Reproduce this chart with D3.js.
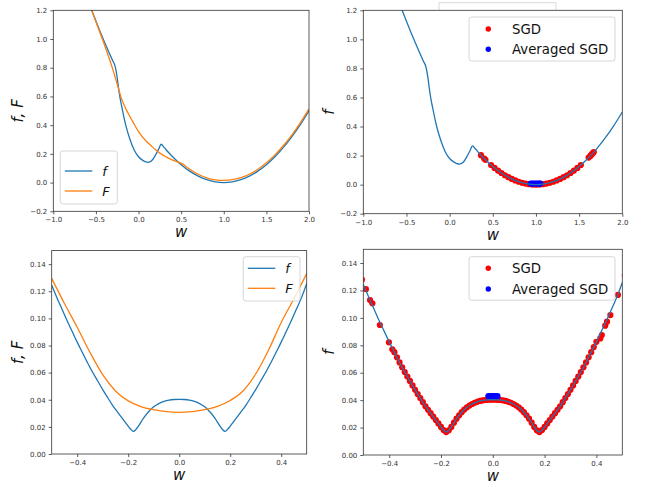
<!DOCTYPE html>
<html><head><meta charset="utf-8">
<script src="https://cdn.jsdelivr.net/npm/d3@7"></script>
<style>
body{margin:0;background:#fff}
svg{display:block}
text{font-family:"DejaVu Sans",sans-serif}
</style>
</head><body>
<svg id="chart" width="645" height="487"></svg>
<script>
// ---------- Top row data (w in [-1,2]) ----------
const topW_f = [-0.6,-0.55,-0.5,-0.45,-0.4,-0.35,-0.3,-0.277,-0.25,-0.237,-0.22,-0.197,-0.15,-0.1,-0.05,0.0,0.05,0.1,0.115,0.15,0.2,0.24,0.264,0.3,0.35,0.4,0.5,0.6,0.7,0.8,0.9,1.0,1.1,1.2,1.3,1.4,1.5,1.6,1.7,1.8,1.9,2.0];
const topVal_f = [1.28,1.201,1.125,1.051,0.98,0.911,0.845,0.815,0.73,0.67,0.60,0.53,0.40,0.30,0.225,0.18,0.155,0.142,0.141,0.150,0.193,0.238,0.267,0.245,0.211,0.18,0.125,0.08,0.045,0.02,0.005,0.0,0.005,0.02,0.045,0.08,0.125,0.18,0.245,0.32,0.405,0.5];
const topW_F = [-0.6,-0.55,-0.5,-0.45,-0.4,-0.35,-0.3,-0.25,-0.2,-0.15,-0.1,-0.05,0,0.05,0.1,0.15,0.2,0.25,0.3,0.35,0.4,0.45,0.5,0.6,0.7,0.8,0.9,1.0,1.1,1.2,1.3,1.4,1.5,1.6,1.7,1.8,1.9,2.0];
const topVal_F = [1.27,1.2,1.12,1.04,0.96,0.875,0.785,0.685,0.585,0.515,0.459,0.405,0.355,0.315,0.283,0.255,0.228,0.205,0.187,0.17,0.157,0.146,0.135,0.093,0.058,0.033,0.019,0.015,0.02,0.034,0.058,0.093,0.138,0.193,0.258,0.333,0.418,0.513];
// SGD iterates (top right)
const sgdTopW = [0.363,0.40,0.415,0.48,0.52,0.56,0.60,0.64,0.68,0.72,0.76,0.80,0.84,0.88,0.92,0.96,1.00,1.04,1.08,1.12,1.16,1.20,1.24,1.28,1.32,1.36,1.40,1.44,1.48,1.52,1.61,1.63,1.645,1.66,1.67];
const sgdTopF = [0.203,0.18,0.171,0.1352,0.1152,0.0968,0.08,0.0648,0.0512,0.0392,0.0288,0.02,0.0128,0.0072,0.0032,0.0008,0.0,0.0008,0.0032,0.0072,0.0128,0.02,0.0288,0.0392,0.0512,0.0648,0.08,0.0968,0.1152,0.1352,0.186,0.198,0.208,0.218,0.224];
const avgTopW = [0.94,0.96,0.98,1.0,1.02,1.04,1.05];
const avgTopF = [0.008,0.0078,0.0077,0.0077,0.0077,0.0078,0.008];

// ---------- Bottom row data (w in [-0.5,0.5]) ----------
const botW_f = [-0.5,-0.48,-0.46,-0.44,-0.42,-0.4,-0.38,-0.36,-0.34,-0.32,-0.3,-0.28,-0.26,-0.24,-0.22,-0.2,-0.19,-0.18,-0.17,-0.16,-0.14,-0.12,-0.1,-0.08,-0.06,-0.04,-0.02,0,0.02,0.04,0.06,0.08,0.1,0.12,0.14,0.16,0.17,0.18,0.19,0.2,0.22,0.24,0.26,0.28,0.3,0.32,0.34,0.36,0.38,0.4,0.42,0.44,0.46,0.48,0.5];
const botVal_f = [0.1245,0.1155,0.107,0.0985,0.0905,0.0825,0.075,0.0675,0.0605,0.054,0.0475,0.0415,0.0355,0.0305,0.0255,0.0205,0.0182,0.0167,0.018,0.0205,0.0265,0.0312,0.0348,0.0372,0.0388,0.0398,0.0402,0.0403,0.0402,0.0398,0.0388,0.0372,0.0348,0.0312,0.0265,0.0205,0.018,0.0167,0.0182,0.0205,0.0255,0.0305,0.0355,0.0415,0.0475,0.054,0.0605,0.0675,0.075,0.0825,0.0905,0.0985,0.107,0.1155,0.1258];
const botW_F = [-0.5,-0.45,-0.4,-0.35,-0.3,-0.25,-0.2,-0.15,-0.1,-0.05,0,0.05,0.1,0.15,0.2,0.25,0.3,0.35,0.4,0.45,0.5];
const botVal_F = [0.1295,0.111,0.0935,0.075,0.0585,0.0465,0.0392,0.035,0.0327,0.0312,0.0307,0.0312,0.0328,0.0352,0.0395,0.0465,0.059,0.0765,0.097,0.1145,0.133];
// SGD iterates (bottom right)
const sgdBotW = [-0.505,-0.49,-0.474,-0.465,-0.436,-0.401,-0.388,
 -0.38,-0.37,-0.36,-0.35,-0.34,-0.33,-0.32,-0.31,-0.30,-0.29,-0.28,-0.27,-0.26,-0.25,-0.24,-0.23,-0.22,-0.21,-0.20,-0.19,-0.18,-0.17,-0.16,-0.15,-0.14,-0.13,-0.12,-0.11,-0.10,-0.09,-0.08,-0.07,-0.06,-0.05,-0.04,-0.03,-0.02,-0.01,
 0,0.01,0.02,0.03,0.04,0.05,0.06,0.07,0.08,0.09,0.10,0.11,0.12,0.13,0.14,0.15,0.16,0.17,0.18,0.19,0.20,0.21,0.22,0.23,0.24,0.25,0.26,0.27,0.28,0.29,0.30,0.31,0.32,0.33,0.34,0.35,0.36,0.37,0.38,0.39,0.40,
 0.415,0.421,0.434,0.441,0.454,0.483,0.51];
const sgdBotF = [0.128,0.1209,0.113,0.1106,0.0948,0.0822,0.0771,
 0.075,0.0712,0.0675,0.064,0.0605,0.0572,0.054,0.0507,0.0475,0.0445,0.0415,0.0385,0.0355,0.033,0.0305,0.028,0.0255,0.023,0.0205,0.0182,0.0167,0.018,0.0205,0.0236,0.0265,0.029,0.0312,0.0331,0.0348,0.0361,0.0372,0.0381,0.0388,0.0394,0.0398,0.0401,0.0402,0.0403,
 0.0403,0.0403,0.0402,0.0401,0.0398,0.0394,0.0388,0.0381,0.0372,0.0361,0.0348,0.0331,0.0312,0.029,0.0265,0.0236,0.0205,0.018,0.0167,0.0182,0.0205,0.023,0.0255,0.028,0.0305,0.033,0.0355,0.0385,0.0415,0.0445,0.0475,0.0507,0.054,0.0572,0.0605,0.064,0.0675,0.0712,0.075,0.0787,0.0825,
 0.085,0.0875,0.0943,0.0972,0.102,0.1167,0.131];
const avgBotW = [-0.017,-0.01,-0.003,0.004,0.011,0.018];
const avgBotF = [0.0429,0.0429,0.0429,0.0429,0.0429,0.0429];

// ticks
const topXTicks = [-1.0,-0.5,0.0,0.5,1.0,1.5,2.0];
const topYTicks = [-0.2,0.0,0.2,0.4,0.6,0.8,1.0,1.2];
const botXTicks = [-0.4,-0.2,0.0,0.2,0.4];
const botYTicks = [0.00,0.02,0.04,0.06,0.08,0.10,0.12,0.14];

const BLUE = "#1f77b4", ORANGE = "#ff7f0e";
const svg = d3.select("#chart");

const zip = (a, b) => a.map((v, i) => [v, b[i]]);

// stray legend box fragment at the top
svg.append("path").attr("d", "M439,10V2.7H556V10")
  .attr("fill", "none").attr("stroke", "#cfcfcf").attr("stroke-width", 0.8);

let clipId = 0;
function panel(o) {
  const g = svg.append("g");
  const x = d3.scaleLinear().domain(o.xd).range([o.l, o.r]);
  const y = d3.scaleLinear().domain(o.yd).range([o.b, o.t]);
  const id = "clip" + (clipId++);
  svg.append("clipPath").attr("id", id).append("rect")
    .attr("x", o.l).attr("y", o.t).attr("width", o.r - o.l).attr("height", o.b - o.t);
  const plot = g.append("g").attr("clip-path", `url(#${id})`);
  const line = d3.line().x(d => x(d[0])).y(d => y(d[1])).curve(d3.curveMonotoneX);

  (o.scatters || []).forEach(s => {
    plot.append("g").selectAll("circle").data(zip(s.w, s.v)).join("circle")
      .attr("cx", d => x(d[0])).attr("cy", d => y(d[1])).attr("r", 3.1).attr("fill", s.c);
  });
  (o.lines || []).forEach(s => {
    plot.append("path").datum(zip(s.w, s.v)).attr("d", line)
      .attr("fill", "none").attr("stroke", s.c).attr("stroke-width", 1.3);
  });

  const xa = d3.axisBottom(x).tickValues(o.xt).tickFormat(d3.format(o.xf)).tickSize(3).tickPadding(3);
  const ya = d3.axisLeft(y).tickValues(o.yt).tickFormat(d3.format(o.yf)).tickSize(3).tickPadding(3);
  [g.append("g").attr("transform", `translate(0,${o.b})`).call(xa),
   g.append("g").attr("transform", `translate(${o.l},0)`).call(ya)].forEach(a => {
    a.select(".domain").remove();
    a.selectAll("line").attr("stroke", "#333").attr("stroke-width", 0.8);
    a.selectAll("text").attr("fill", "#333").style("font-size", "7px").style("font-family", "DejaVu Sans");
  });
  g.append("rect").attr("x", o.l).attr("y", o.t).attr("width", o.r - o.l).attr("height", o.b - o.t)
    .attr("fill", "none").attr("stroke", "#333").attr("stroke-width", 0.8);

  // axis labels
  g.append("text").attr("x", (o.l + o.r) / 2).attr("y", o.b + 26).attr("text-anchor", "middle")
    .style("font-size", "15px").style("font-style", "italic").attr("fill", "#111").text("w");
  g.append("text").attr("transform", `translate(${o.ylx},${(o.t + o.b) / 2}) rotate(-90)`)
    .attr("text-anchor", "middle").style("font-size", "15px").style("font-style", "italic")
    .attr("fill", "#111").text(o.yl);

  // legend
  const L = o.leg;
  g.append("rect").attr("x", L.x).attr("y", L.y).attr("width", L.w).attr("height", L.h)
    .attr("rx", 2.5).attr("fill", "#fff").attr("fill-opacity", 0.8)
    .attr("stroke", "#cccccc").attr("stroke-width", 0.8);
  L.items.forEach((it, i) => {
    const cy = L.y + L.y0 + i * L.dy;
    if (it.type === "line") {
      g.append("line").attr("x1", L.x + 4.5).attr("x2", L.x + 32).attr("y1", cy).attr("y2", cy)
        .attr("stroke", it.c).attr("stroke-width", 1.3);
      g.append("text").attr("x", L.x + 42).attr("y", cy + 4.5)
        .style("font-size", "13px").style("font-style", "italic").attr("fill", "#111").text(it.t);
    } else {
      g.append("circle").attr("cx", L.x + 19.3).attr("cy", cy).attr("r", 2.7).attr("fill", it.c);
      g.append("text").attr("x", L.x + 43).attr("y", cy + 4.7)
        .style("font-size", "13.3px").attr("fill", "#111").text(it.t);
    }
  });
}

// Panel 1: top-left
panel({l: 53.3, r: 309, t: 10.3, b: 211.3, xd: [-1, 2], yd: [-0.2, 1.2],
  xt: topXTicks, yt: topYTicks, xf: ".1f", yf: ".1f", yl: "f, F", ylx: 23,
  lines: [{w: topW_f, v: topVal_f, c: BLUE}, {w: topW_F, v: topVal_F, c: ORANGE}],
  leg: {x: 60.3, y: 151, w: 57, h: 53, y0: 20, dy: 20,
    items: [{type: "line", c: BLUE, t: "f"}, {type: "line", c: ORANGE, t: "F"}]}});

// Panel 2: top-right
panel({l: 363.3, r: 622.3, t: 10.3, b: 213.7, xd: [-1, 2], yd: [-0.2, 1.2],
  xt: topXTicks, yt: topYTicks, xf: ".1f", yf: ".1f", yl: "f", ylx: 334,
  scatters: [{w: sgdTopW, v: sgdTopF, c: "#ff0000"}, {w: avgTopW, v: avgTopF, c: "#0000ff"}],
  lines: [{w: topW_f, v: topVal_f, c: BLUE}],
  leg: {x: 469, y: 17, w: 146, h: 44, y0: 12, dy: 20.3,
    items: [{type: "dot", c: "#ff0000", t: "SGD"}, {type: "dot", c: "#0000ff", t: "Averaged SGD"}]}});

// Panel 3: bottom-left
panel({l: 51.7, r: 306.7, t: 250.6, b: 454, xd: [-0.5, 0.5], yd: [0, 0.15],
  xt: botXTicks, yt: botYTicks, xf: ".1f", yf: ".2f", yl: "f, F", ylx: 23,
  lines: [{w: botW_f, v: botVal_f, c: BLUE}, {w: botW_F, v: botVal_F, c: ORANGE}],
  leg: {x: 243.3, y: 256.7, w: 56.7, h: 44.3, y0: 11.6, dy: 20,
    items: [{type: "line", c: BLUE, t: "f"}, {type: "line", c: ORANGE, t: "F"}]}});

// Panel 4: bottom-right
panel({l: 363.3, r: 622.3, t: 249.3, b: 455, xd: [-0.5, 0.5], yd: [0, 0.15],
  xt: botXTicks, yt: botYTicks, xf: ".1f", yf: ".2f", yl: "f", ylx: 334,
  scatters: [{w: sgdBotW, v: sgdBotF, c: "#ff0000"}, {w: avgBotW, v: avgBotF, c: "#0000ff"}],
  lines: [{w: botW_f, v: botVal_f, c: BLUE}],
  leg: {x: 469, y: 256.7, w: 146, h: 43.5, y0: 11.6, dy: 20.7,
    items: [{type: "dot", c: "#ff0000", t: "SGD"}, {type: "dot", c: "#0000ff", t: "Averaged SGD"}]}});
</script>
</body></html>
